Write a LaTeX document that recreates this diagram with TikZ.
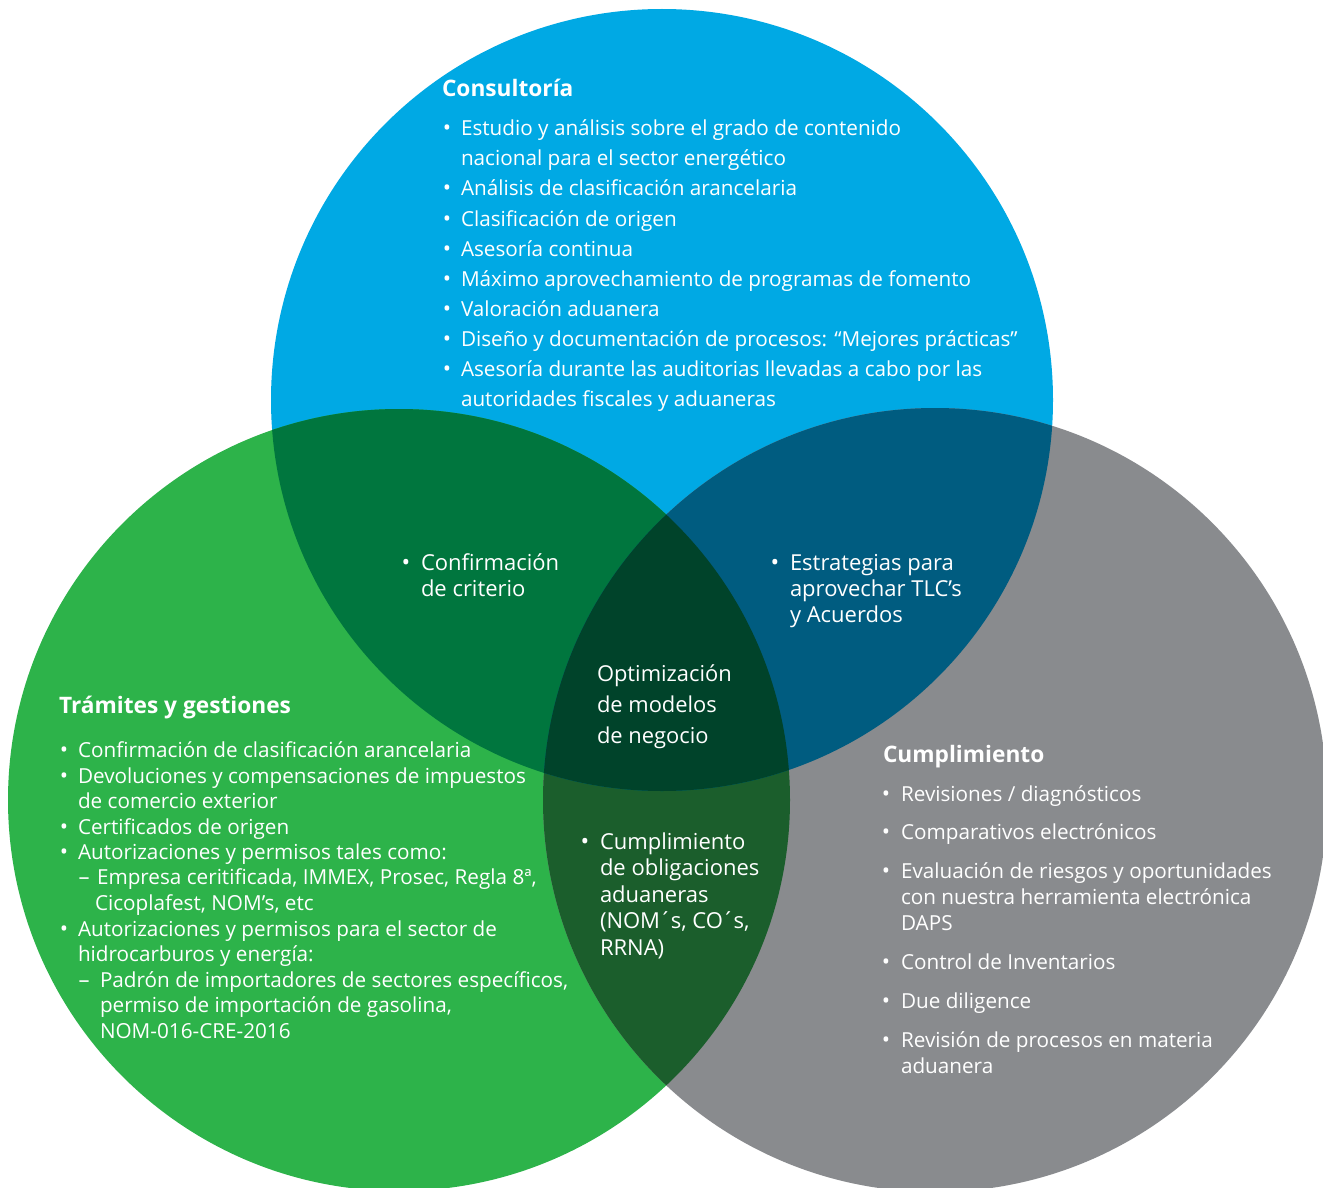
\documentclass[tikz,border=0pt]{standalone}
\usepackage{fontspec}
\setmainfont{Open Sans}
\definecolor{cblue}{RGB}{0,169,228}
\definecolor{cgreen}{RGB}{45,179,74}
\definecolor{cgray}{RGB}{137,139,142}
\definecolor{cbg}{RGB}{0,118,62}
\definecolor{cbgr}{RGB}{0,92,128}
\definecolor{cggr}{RGB}{27,94,44}
\definecolor{cmid}{RGB}{0,67,42}
\begin{document}
\begin{tikzpicture}[x=1pt,y=-1pt,
  ln/.style={anchor=base west, inner sep=0pt, outer sep=0pt, text=white, font=\fontsize{20.7}{24}\selectfont},
  bl/.style={anchor=base, inner sep=0pt, outer sep=0pt, text=white, font=\fontsize{22}{24}\selectfont},
  hd/.style={ln, font=\fontsize{22.7}{26}\selectfont\bfseries},
  md/.style={ln, font=\fontsize{22}{26}\selectfont},
  mdb/.style={bl, font=\fontsize{23}{26}\selectfont},
  op/.style={ln, font=\fontsize{21.9}{27}\selectfont}]
\useasboundingbox (0,0) rectangle (1323,1188);
\fill[white] (0,0) rectangle (1323,1188);
\coordinate (B) at (662,400);
\coordinate (G) at (399,800);
\coordinate (R) at (935,800);
% circles
\fill[cblue] (B) circle[radius=391pt];
\fill[cgreen] (G) circle[radius=391pt];
\fill[cgray] (R) circle[radius=392pt];
\begin{scope}
  \clip (G) circle[radius=391pt];
  \fill[cggr] (R) circle[radius=392pt];
\end{scope}
\begin{scope}
  \clip (B) circle[radius=391pt];
  \fill[cbg] (G) circle[radius=391pt];
  \fill[cbgr] (R) circle[radius=392pt];
  \clip (G) circle[radius=391pt];
  \fill[cmid] (R) circle[radius=392pt];
\end{scope}
% Consultoria
\node[hd] (cH) at (442,97) {Consultoría};
\node[bl] (cb1) at (447,136) {•};
\node[ln] (c1) at (461,136) {Estudio y análisis sobre el grado de contenido};
\node[ln] (c2) at (461,166) {nacional para el sector energético};
\node[bl] (cb3) at (447,196) {•};
\node[ln] (c3) at (461,196) {Análisis de clasificación arancelaria};
\node[bl] (cb4) at (447,226) {•};
\node[ln] (c4) at (461,226) {Clasificación de origen};
\node[bl] (cb5) at (447,256) {•};
\node[ln] (c5) at (461,256) {Asesoría continua};
\node[bl] (cb6) at (447,286) {•};
\node[ln] (c6) at (461,286) {Máximo aprovechamiento de programas de fomento};
\node[bl] (cb7) at (447,316) {•};
\node[ln] (c7) at (461,316) {Valoración aduanera};
\node[bl] (cb8) at (447,346) {•};
\node[ln] (c8) at (461,346) {Diseño y documentación de procesos: “Mejores prácticas”};
\node[bl] (cb9) at (447,376) {•};
\node[ln] (c9) at (461,376) {Asesoría durante las auditorias llevadas a cabo por las};
\node[ln] (c10) at (461,406) {autoridades fiscales y aduaneras};
% Tramites
\node[hd] (tH) at (59,713) {Trámites y gestiones};
\node[bl] (tb1) at (64,757) {•};
\node[ln] (t1) at (78,757) {Confirmación de clasificación arancelaria};
\node[bl] (tb2) at (64,783) {•};
\node[ln] (t2) at (78,783) {Devoluciones y compensaciones de impuestos};
\node[ln] (t3) at (78,808) {de comercio exterior};
\node[bl] (tb4) at (64,834) {•};
\node[ln] (t4) at (78,834) {Certificados de origen};
\node[bl] (tb5) at (64,859) {•};
\node[ln] (t5) at (78,859) {Autorizaciones y permisos tales como:};
\node[bl] (td6) at (84,884) {–};
\node[ln] (t6) at (97,884) {Empresa ceritificada, IMMEX, Prosec, Regla 8ª,};
\node[ln] (t7) at (95,910) {Cicoplafest, NOM’s, etc};
\node[bl] (tb8) at (64,936) {•};
\node[ln] (t8) at (78,936) {Autorizaciones y permisos para el sector de};
\node[ln] (t9) at (78,961) {hidrocarburos y energía:};
\node[bl] (td10) at (84,987) {–};
\node[ln] (t10) at (100,987) {Padrón de importadores de sectores específicos,};
\node[ln] (t11) at (100,1012) {permiso de importación de gasolina,};
\node[ln] (t12) at (100,1038) {NOM-016-CRE-2016};
% Cumplimiento
\node[hd] (pH) at (883,762) {Cumplimiento};
\node[bl] (pb1) at (886,801) {•};
\node[ln] (p1) at (901,801) {Revisiones / diagnósticos};
\node[bl] (pb2) at (886,839) {•};
\node[ln] (p2) at (901,839) {Comparativos electrónicos};
\node[bl] (pb3) at (886,878) {•};
\node[ln] (p3) at (901,878) {Evaluación de riesgos y oportunidades};
\node[ln] (p4) at (901,904) {con nuestra herramienta electrónica};
\node[ln] (p5) at (901,930) {DAPS};
\node[bl] (pb6) at (886,969) {•};
\node[ln] (p6) at (901,969) {Control de Inventarios};
\node[bl] (pb7) at (886,1008) {•};
\node[ln] (p7) at (901,1008) {Due diligence};
\node[bl] (pb8) at (886,1047) {•};
\node[ln] (p8) at (901,1047) {Revisión de procesos en materia};
\node[ln] (p9) at (901,1073) {aduanera};
% intersections
\node[mdb] (ib1) at (406,570) {•};
\node[md] (i1) at (421,570) {Confirmación};
\node[md] (i2) at (421,596) {de criterio};
\node[mdb] (jb1) at (775,570) {•};
\node[md] (j1) at (790,570) {Estrategias para};
\node[md] (j2) at (790,596) {aprovechar TLC’s};
\node[md] (j3) at (790,622) {y Acuerdos};
\node[op] (o1) at (597,681) {Optimización};
\node[op] (o2) at (597,712) {de modelos};
\node[op] (o3) at (597,743) {de negocio};
\node[mdb] (kb1) at (585,849) {•};
\node[md] (k1) at (600,849) {Cumplimiento};
\node[md] (k2) at (600,875) {de obligaciones};
\node[md] (k3) at (600,902) {aduaneras};
\node[md] (k4) at (600,928) {(NOM\kern-1pt´\kern-1pts, CO\kern-1pt´\kern-1pts,};
\node[md] (k5) at (600,955) {RRNA)};
\end{tikzpicture}
\end{document}
